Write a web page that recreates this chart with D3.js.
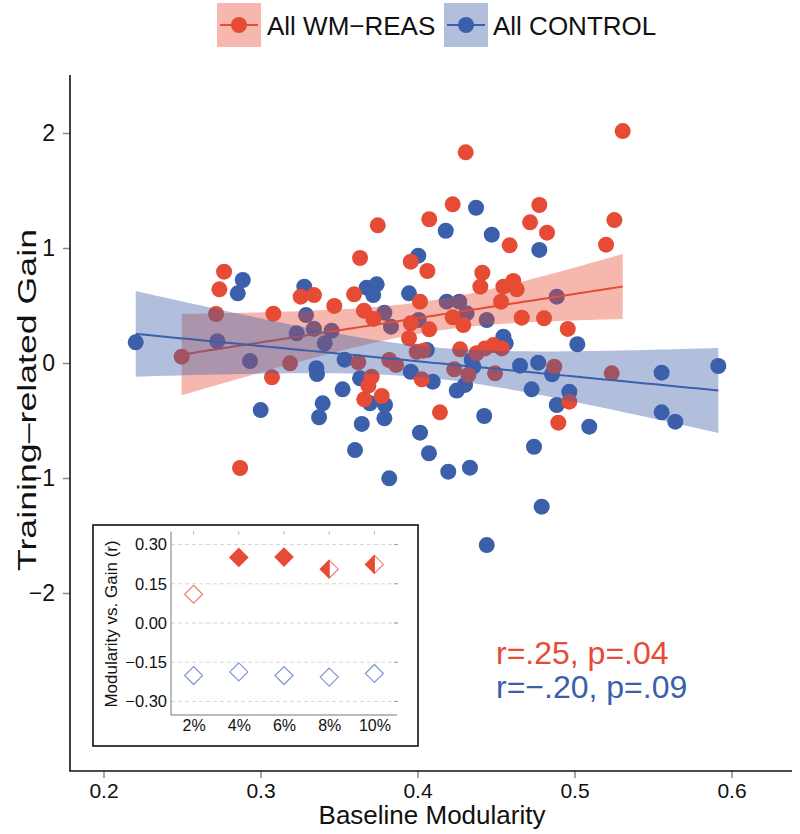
<!DOCTYPE html>
<html><head><meta charset="utf-8">
<script src="https://cdn.jsdelivr.net/npm/d3@7"></script>
<style>
body{margin:0;background:#fff}
svg{display:block;font-family:"Liberation Sans",Arial,Helvetica,sans-serif}
</style>
</head><body>
<svg id="chart" width="800" height="834"></svg>
<script>
// ---------------- data ----------------
const seriesNames = ["All WM\u2212REAS", "All CONTROL"];
const wmX = [0.2498,0.2768,0.2738,0.2717,0.3082,0.3256,0.3341,0.3470,0.3596,0.3634,0.3188,0.3073,0.2870,0.3659,0.3719,0.3623,0.3708,0.3687,0.3661,0.3772,0.3747,0.3820,0.3863,0.3957,0.4063,0.4016,0.3957,0.3946,0.4075,0.3995,0.4037,0.4027,0.4075,0.4224,0.4307,0.4143,0.4224,0.4292,0.4271,0.4234,0.4324,0.4413,0.4400,0.4547,0.4610,0.4632,0.4532,0.4587,0.4717,0.4776,0.4825,0.4664,0.4806,0.4957,0.4376,0.4430,0.4483,0.4537,0.4494,0.4871,0.4967,0.4897,0.5237,0.5201,0.5254,0.5307];
const wmY = [0.055,0.794,0.641,0.426,0.429,0.577,0.591,0.496,0.597,0.913,-0.003,-0.124,-0.913,0.455,0.383,0.006,-0.119,-0.197,-0.316,-0.287,1.197,0.026,-0.017,0.881,0.800,0.533,0.345,0.215,0.293,0.098,0.107,-0.142,1.250,1.380,1.832,-0.429,0.397,0.330,0.119,-0.055,-0.104,0.785,0.664,0.664,0.713,0.641,0.533,1.023,1.223,1.374,1.133,0.394,0.389,0.296,0.085,0.127,0.156,0.127,-0.090,-0.032,-0.336,-0.519,-0.090,1.029,1.243,2.017];
const ctX = [0.2205,0.2887,0.2855,0.2725,0.2933,0.3230,0.3340,0.3453,0.3409,0.3290,0.3279,0.3536,0.3356,0.3360,0.3523,0.3396,0.3373,0.3001,0.3602,0.3645,0.4373,0.4180,0.4473,0.4776,0.4005,0.3676,0.3740,0.3718,0.3946,0.4186,0.4266,0.3789,0.3831,0.4008,0.4313,0.4441,0.4887,0.4547,0.4562,0.5018,0.4059,0.4345,0.4355,0.4653,0.4769,0.4857,0.3957,0.4097,0.3634,0.4250,0.4303,0.4727,0.4967,0.4887,0.3697,0.3793,0.3789,0.4425,0.4016,0.4073,0.4742,0.5094,0.3820,0.4196,0.4334,0.4791,0.4441,0.5555,0.5555,0.5642,0.5916];
const ctY = [0.180,0.722,0.606,0.189,0.017,0.258,0.298,0.281,0.171,0.417,0.664,0.029,-0.045,-0.096,-0.229,-0.351,-0.472,-0.409,-0.757,-0.530,1.350,1.150,1.116,0.983,0.933,0.655,0.684,0.591,0.606,0.533,0.533,0.437,0.316,0.374,0.432,0.374,0.577,0.229,0.171,0.163,0.113,0.026,-0.032,-0.023,0.003,-0.098,-0.076,-0.162,-0.133,-0.240,-0.191,-0.229,-0.249,-0.365,-0.351,-0.365,-0.481,-0.461,-0.606,-0.785,-0.728,-0.554,-1.003,-0.945,-0.910,-1.249,-1.583,-0.084,-0.429,-0.510,-0.026];
const xTicks = [0.2, 0.3, 0.4, 0.5, 0.6];
const yTicks = [-2, -1, 0, 1, 2];
const statsText = ["r=.25, p=.04", "r=\u2212.20, p=.09"];

// inset
const insetCats = ["2%", "4%", "6%", "8%", "10%"];
const insetWm = [0.110, 0.251, 0.252, 0.206, 0.224];
const insetWmSig = ["open", "filled", "filled", "half", "half"];
const insetCtrl = [-0.201, -0.187, -0.201, -0.207, -0.193];
const insetYTicks = [-0.30, -0.15, 0.00, 0.15, 0.30];

// ---------------- styles ----------------
const RED = "#E64B35", BLUE = "#3B5FAB";
const svg = d3.select("#chart");

const x = d3.scaleLinear().domain([0.2, 0.6]).range([103.5, 731.5]);
const y = d3.scaleLinear().domain([-2, 2]).range([593, 133]);
const axL = 70, axB = 771, axT = 75, axR = 792;

// points
const gPts = svg.append("g");
function drawPts(xs, ys, col){
  gPts.selectAll(null).data(xs.map((v,i)=>[v, ys[i]])).enter().append("circle")
    .attr("cx", d=>x(d[0])).attr("cy", d=>y(d[1])).attr("r", 8).attr("fill", col);
}
drawPts(ctX, ctY, BLUE);
drawPts(wmX, wmY, RED);

// regression with 95% CI
function tq(df){ const z=1.959964; return z + (z**3+z)/(4*df) + (5*z**5+16*z**3+3*z)/(96*df*df); }
function fit(xs, ys){
  const n=xs.length, mx=d3.mean(xs), my=d3.mean(ys);
  let sxx=0, sxy=0; xs.forEach((v,i)=>{sxx+=(v-mx)**2; sxy+=(v-mx)*(ys[i]-my);});
  const b=sxy/sxx, a=my-b*mx;
  let sse=0; xs.forEach((v,i)=>{sse+=(ys[i]-a-b*v)**2;});
  const s=Math.sqrt(sse/(n-2)), t=tq(n-2);
  const [lo,hi]=d3.extent(xs);
  const grid=d3.range(81).map(i=>lo+(hi-lo)*i/80);
  return grid.map(g=>{const f=a+b*g, se=s*Math.sqrt(1/n+(g-mx)**2/sxx); return {x:g, f, l:f-t*se, u:f+t*se};});
}
function drawFit(xs, ys, col){
  const pts = fit(xs, ys);
  svg.append("path").datum(pts)
    .attr("d", d3.area().x(d=>x(d.x)).y0(d=>y(d.l)).y1(d=>y(d.u)))
    .attr("fill", col).attr("fill-opacity", 0.4);
  svg.append("path").datum(pts)
    .attr("d", d3.line().x(d=>x(d.x)).y(d=>y(d.f)))
    .attr("fill", "none").attr("stroke", col).attr("stroke-width", 2);
}
drawFit(wmX, wmY, RED);
drawFit(ctX, ctY, BLUE);

// axes
const tickCol = "#8a8a8a";
const gx = svg.append("g").attr("transform", `translate(0,${axB})`)
  .call(d3.axisBottom(x).tickValues(xTicks).tickFormat(d3.format(".1f")).tickSize(7).tickSizeOuter(0).tickPadding(5));
gx.select(".domain").remove();
gx.selectAll(".tick line").attr("stroke", tickCol).attr("stroke-width", 1.5);
gx.selectAll(".tick text").attr("font-size", 21).attr("fill", "#111").attr("font-family", null);
const gy = svg.append("g").attr("transform", `translate(${axL},0)`)
  .call(d3.axisLeft(y).tickValues(yTicks).tickFormat(d3.format("d")).tickSize(7).tickSizeOuter(0).tickPadding(8));
gy.select(".domain").remove();
gy.selectAll(".tick line").attr("stroke", tickCol).attr("stroke-width", 1.5);
gy.selectAll(".tick text").attr("font-size", 23).attr("fill", "#111").attr("font-family", null);
svg.append("path").attr("d", `M${axL},${axT}V${axB}H${axR}`).attr("fill", "none").attr("stroke", "#111").attr("stroke-width", 1.6);

svg.append("text").attr("x", 432).attr("y", 824).attr("text-anchor", "middle")
  .attr("font-size", 26).attr("fill", "#111").text("Baseline Modularity");
svg.append("text").attr("transform", "translate(36,400) rotate(-90)").attr("text-anchor", "middle")
  .attr("font-size", 26).attr("fill", "#111").attr("textLength", 342).attr("lengthAdjust", "spacingAndGlyphs")
  .text("Training\u2013related Gain");

// stats
svg.append("text").attr("x", 496).attr("y", 664).attr("font-size", 32).attr("fill", RED).text(statsText[0]);
svg.append("text").attr("x", 496).attr("y", 698).attr("font-size", 32).attr("fill", BLUE).text(statsText[1]);

// legend
const legend = [{name:seriesNames[0], col:RED, rx:217, tx:267},{name:seriesNames[1], col:BLUE, rx:444, tx:493}];
legend.forEach(L=>{
  const g = svg.append("g");
  g.append("rect").attr("x", L.rx).attr("y", 3).attr("width", 44).attr("height", 44).attr("fill", L.col).attr("fill-opacity", 0.4);
  g.append("line").attr("x1", L.rx+3).attr("x2", L.rx+41).attr("y1", 25).attr("y2", 25).attr("stroke", L.col).attr("stroke-width", 2);
  g.append("circle").attr("cx", L.rx+22).attr("cy", 25).attr("r", 8).attr("fill", L.col);
  g.append("text").attr("x", L.tx).attr("y", 35).attr("font-size", 26).attr("fill", "#111").text(L.name);
});

// ---------------- inset ----------------
const ins = svg.append("g");
ins.append("rect").attr("x", 93).attr("y", 525).attr("width", 325).attr("height", 221)
  .attr("fill", "#fff").attr("stroke", "#111").attr("stroke-width", 1.6);
const ix = d3.scalePoint().domain(insetCats).range([171, 397]).padding(0.5);
const iy = d3.scaleLinear().domain([-0.35, 0.35]).range([714.5, 531.5]);
// grid
ins.selectAll(null).data(insetYTicks).enter().append("line")
  .attr("x1", 171).attr("x2", 397).attr("y1", d=>iy(d)).attr("y2", d=>iy(d))
  .attr("stroke", "#d6d6d6").attr("stroke-dasharray", "4,3").attr("stroke-width", 1);
ins.selectAll(null).data(insetYTicks).enter().append("line")
  .attr("x1", 394).attr("x2", 398).attr("y1", d=>iy(d)).attr("y2", d=>iy(d))
  .attr("stroke", "#999").attr("stroke-width", 1);
ins.selectAll(null).data(insetCats).enter().append("line")
  .attr("x1", d=>ix(d)).attr("x2", d=>ix(d)).attr("y1", 531.5).attr("y2", 534.5)
  .attr("stroke", "#aaa").attr("stroke-width", 1);
// axes
const igy = ins.append("g").attr("transform", "translate(171,0)")
  .call(d3.axisLeft(iy).tickValues(insetYTicks).tickFormat(d3.format(".2f")).tickSize(0).tickPadding(4));
igy.select(".domain").remove();
igy.selectAll(".tick text").attr("font-size", 16.5).attr("fill", "#111").attr("font-family", null);
const igx = ins.append("g").attr("transform", "translate(0,715)")
  .call(d3.axisBottom(ix).tickSize(0).tickPadding(5));
igx.select(".domain").remove();
igx.selectAll(".tick text").attr("font-size", 16).attr("fill", "#111").attr("font-family", null);
ins.append("path").attr("d", "M171,531.5V715H397").attr("fill", "none").attr("stroke", "#777").attr("stroke-width", 1);
ins.append("text").attr("transform", "translate(117,624) rotate(-90)").attr("text-anchor", "middle")
  .attr("font-size", 17).attr("fill", "#111").text("Modularity vs. Gain (r)");

const h = 9;
function diamond(cx, cy){ return `M${cx},${cy-h}L${cx+h},${cy}L${cx},${cy+h}L${cx-h},${cy}Z`; }
function leftHalf(cx, cy){ return `M${cx},${cy-h}L${cx},${cy+h}L${cx-h},${cy}Z`; }
insetCats.forEach((c,i)=>{
  const cx = ix(c), cyR = iy(insetWm[i]), cyB = iy(insetCtrl[i]);
  ins.append("path").attr("d", diamond(cx, cyB)).attr("fill", "#fff").attr("stroke", "#7E98D0").attr("stroke-width", 1.2);
  const sig = insetWmSig[i];
  if (sig === "filled") {
    ins.append("path").attr("d", diamond(cx, cyR)).attr("fill", RED).attr("stroke", RED).attr("stroke-width", 1.2);
  } else {
    ins.append("path").attr("d", diamond(cx, cyR)).attr("fill", "#fff").attr("stroke", "#EE7F6C").attr("stroke-width", 1.2);
    if (sig === "half") ins.append("path").attr("d", leftHalf(cx, cyR)).attr("fill", RED).attr("stroke", RED).attr("stroke-width", 1);
  }
});
</script>
</body></html>
